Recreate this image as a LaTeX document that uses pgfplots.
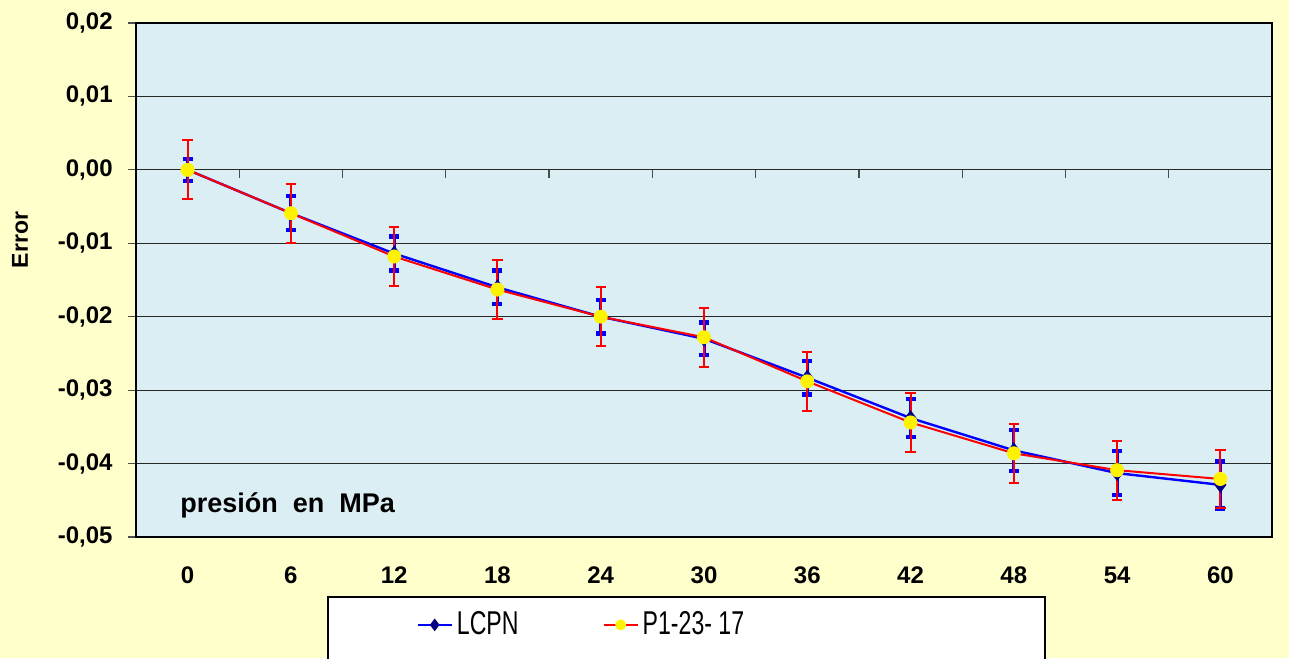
\documentclass[border=0pt]{standalone}
\usepackage{pgfplots}
\pgfplotsset{compat=1.18}
\usepackage{pgfplotstable}
\usepackage{graphicx}
\usepackage{fontspec}
\setmainfont{Liberation Sans}
\definecolor{pagebg}{RGB}{255,255,204}
\definecolor{plotbg}{RGB}{219,238,244}
\definecolor{navy}{RGB}{0,0,128}
\pgfplotstableread{
x y e
0 0.0000 0.0015
1 -0.0059 0.0023
2 -0.0114 0.0023
3 -0.0160 0.0023
4 -0.0200 0.0023
5 -0.0230 0.0022
6 -0.0283 0.0023
7 -0.0338 0.0026
8 -0.0382 0.0028
9 -0.0413 0.0030
10 -0.0429 0.0032
}\lcpn
\pgfplotstableread{
x y e
0 0.0000 0.0040
1 -0.0059 0.0040
2 -0.0118 0.0040
3 -0.0163 0.0040
4 -0.0200 0.0040
5 -0.0228 0.0040
6 -0.0288 0.0040
7 -0.0344 0.0040
8 -0.0386 0.0040
9 -0.0409 0.0040
10 -0.0421 0.0040
}\pone
\newcommand{\tickfont}{\fontsize{12}{14}\selectfont\bfseries}
\begin{document}
\begin{tikzpicture}
\useasboundingbox (0,0) rectangle (644.5pt,329pt);
\begin{scope}
\clip (0,0) rectangle (644.5pt,329pt);
\fill[pagebg] (0,0) rectangle (644.5pt,329pt);
\filldraw[fill=white, draw=black, line width=0.7pt] (164pt,-5pt) rectangle (522.5pt,30.5pt);
\begin{axis}[
  at={(68pt,60.5pt)}, anchor=south west,
  scale only axis, width=568pt, height=257pt,
  xmin=-0.5, xmax=10.5, ymin=-0.05, ymax=0.02,
  axis background/.style={fill=plotbg},
  axis line style={black, line width=1pt},
  xtick={0,1,2,3,4,5,6,7,8,9,10},
  xticklabels={0,6,12,18,24,30,36,42,48,54,60},
  ytick={-0.05,-0.04,-0.03,-0.02,-0.01,0,0.01,0.02},
  yticklabels={{-0,05},{-0,04},{-0,03},{-0,02},{-0,01},{0,00},{0,01},{0,02}},
  scaled y ticks=false,
  tick align=outside, tick pos=left,
  major tick length=4pt,
  x tick style={draw=none},
  y tick style={black!70, line width=0.6pt},
  ymajorgrids,
  grid style={black!85, line width=0.6pt},
  xticklabel style={font=\tickfont, anchor=base, inner sep=0pt, yshift=-19.25pt},
  yticklabel style={font=\tickfont, anchor=east, inner sep=0pt, xshift=-7.5pt},
  legend columns=2,
  legend style={at={(rel axis cs:0.2465,-0.171)}, anchor=west, draw=none, fill=none,
    inner sep=0pt, font=\fontsize{16.5}{18}\selectfont,
    /tikz/every even column/.append style={column sep=40pt}},
  legend image post style={mark size=2.2pt},
]
\addplot[color=blue, line width=1.2pt, mark=diamond*, mark size=3pt,
  mark options={fill=navy, draw=navy, solid},
  error bars/.cd, y dir=both, y explicit,
  error bar style={blue, line width=1.5pt},
  error mark options={rotate=90, blue, line width=2.2pt, mark size=2.5pt}]
  table[x=x, y=y, y error=e] {\lcpn};
\addlegendentry{\scalebox{0.7}[1]{LCPN}}
\addplot[color=red, line width=1pt, mark=*, mark size=3pt,
  mark options={fill=yellow, draw=yellow, solid},
  error bars/.cd, y dir=both, y explicit,
  error bar style={red, line width=1pt},
  error mark options={rotate=90, red, line width=1pt, mark size=2.6pt}]
  table[x=x, y=y, y error=e] {\pone};
\addlegendentry{\scalebox{0.7}[1]{P1-23- 17}}
\end{axis}
\foreach \k in {1,...,10}{
  \draw[black!70, line width=0.6pt] ({68pt+568pt*\k/11},244.07pt) -- ++(0,-4pt);
}
\node[anchor=base west, inner sep=0pt, font=\fontsize{13.5}{16}\selectfont\bfseries] at (90pt,72.5pt) {presión~~en~~MPa};
\node[rotate=90, inner sep=0pt, font=\fontsize{11.5}{14}\selectfont\bfseries] at (10pt,209pt) {Error};
\end{scope}
\end{tikzpicture}
\end{document}
